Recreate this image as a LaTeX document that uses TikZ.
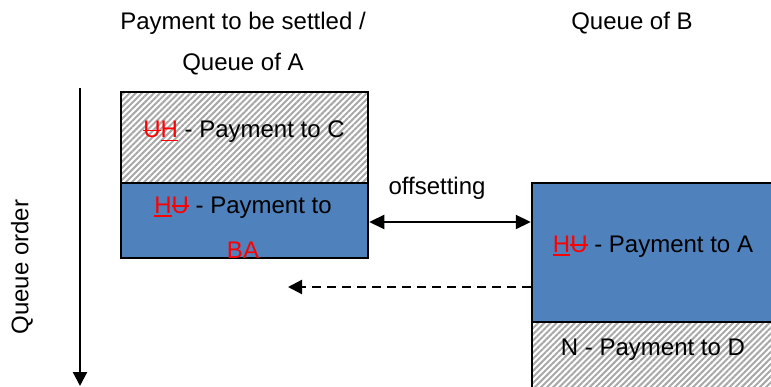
\documentclass[tikz,border=0pt]{standalone}
\usepackage{fontspec}
\setmainfont{Liberation Sans}
\usetikzlibrary{patterns.meta,arrows.meta}
\definecolor{boxblue}{HTML}{4F81BD}
\definecolor{hatchgray}{HTML}{A8A8A8}
\newcommand{\myul}[1]{\setbox0\hbox{#1}\rlap{\rule[-3.5pt]{\wd0}{1.8pt}}\box0}
\newcommand{\mysout}[1]{\setbox0\hbox{#1}\rlap{\rule[6.5pt]{\wd0}{1.8pt}}\box0}
\newcommand{\redUH}{{\color{red}\mysout{U}\myul{H}}}
\newcommand{\redHU}{{\color{red}\myul{H}\mysout{U}}}
\begin{document}
\begin{tikzpicture}[x=1pt,y=-1pt,
  font=\fontsize{24}{28}\selectfont,
  qbox/.style={draw=black,line width=2.5pt,inner sep=0pt,rectangle},
  hatchbox/.style={qbox,pattern={Lines[angle=45,distance=4.3pt,line width=2pt]},pattern color=hatchgray},
  bluebox/.style={qbox,fill=boxblue},
  txt/.style={inner sep=0pt,anchor=center},
  arr/.style={line width=2.2pt,-{Triangle[length=14pt,width=14pt]}},
  darr/.style={line width=2.2pt,{Triangle[length=15pt,width=14pt]}-{Triangle[length=15pt,width=14pt]}}
]
\useasboundingbox (0,0) rectangle (771,387);
\fill[white] (0,0) rectangle (771,387);

% titles
\node[txt] (t1) at (243,23) {Payment to be settled /};
\node[txt] (t2) at (243,64) {Queue of A};
\node[txt] (t3) at (632,23) {Queue of B};

% left queue
\node[hatchbox,minimum width=247pt,minimum height=91pt] (a1) at (244.5,137.5) {};
\node[bluebox,minimum width=247pt,minimum height=75pt] (a2) at (244.5,220.5) {};
\node[txt] (a1t) at (244,132) {\redUH{} - Payment to C};
\node[txt] (a2t) at (243,208) {\redHU{} - Payment to};
\node[txt,text=red] (a2u) at (243,250) {BA};

% right queue (cut by the border)
\begin{scope}
\clip (0,0) rectangle (771,387);
\node[bluebox,minimum width=244pt,minimum height=139pt] (b1) at (654,252.5) {};
\node[hatchbox,minimum width=244pt,minimum height=100pt] (b2) at (654,372) {};
\end{scope}
\node[txt] (b1t) at (653,247) {\redHU{} - Payment to A};
\node[txt] (b2t) at (653,350) {N - Payment to D};

% connectors
\draw[darr] (a2.east |- 0,222) -- (b1.west |- 0,222);
\node[txt] (off) at (437,188) {offsetting};
\coordinate (dend) at (288,287);
\draw[arr,dashed,dash pattern=on 9pt off 6pt] (b1.west |- dend) -- (dend);

% queue order axis
\coordinate (qtop) at (80,88);
\coordinate (qbot) at (80,386);
\draw[arr] (qtop) -- (qbot);
\node[txt,rotate=90] (qo) at (22,267) {Queue order};
\end{tikzpicture}
\end{document}
